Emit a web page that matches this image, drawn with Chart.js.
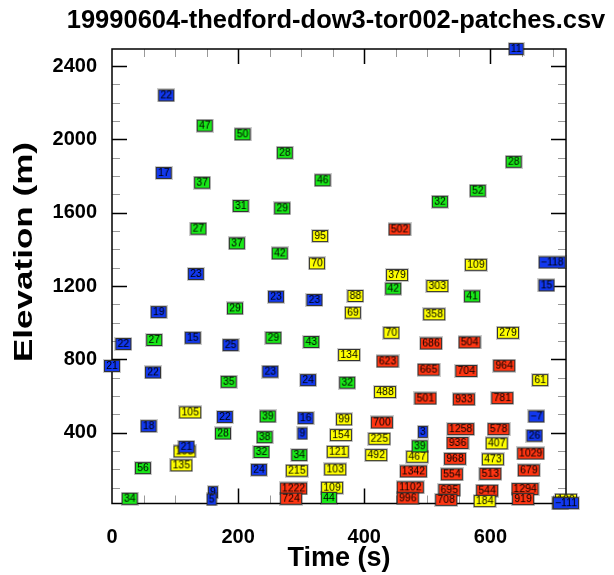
<!DOCTYPE html>
<html>
<head>
<meta charset="utf-8">
<script src="https://cdn.jsdelivr.net/npm/chart.js@4.4.0/dist/chart.umd.min.js"></script>
<style>
  html, body { margin: 0; padding: 0; background: #fff; }
  #wrap { width: 614px; height: 575px; }
</style>
</head>
<body>
<div id="wrap"><canvas id="chart" width="614" height="575"></canvas></div>
<script>
// patch boxes, one group of arrays per colour (time s, elevation m, label)
const blueTimes  = [86, 82, 641, 133, 260, 321, 74, 18, 128, 188, 0, 65, 251, 698, 689, 311, 179, 307, 58, 302, 118, 233, 160, 158, 493, 673, 670, 720];
const blueElevs  = [2240, 1817, 2493, 1266, 1142, 1124, 1058, 884, 918, 878, 764, 729, 733, 1329, 1204, 687, 486, 480, 436, 396, 323, 198, 76, 36, 405, 489, 384, 16];
const blueLabels = ['22', '17', '11', '23', '23', '23', '19', '22', '15', '25', '21', '22', '23', '\u2212118', '15', '24', '22', '16', '18', '9', '21', '24', '9', '5', '3', '\u22127', '26', '\u2212111'];

const greenTimes  = [147, 207, 274, 143, 334, 204, 270, 137, 637, 580, 520, 198, 266, 195, 67, 256, 316, 446, 571, 185, 373, 247, 176, 242, 237, 297, 49, 28, 344, 488];
const greenElevs  = [2075, 2028, 1927, 1764, 1777, 1637, 1624, 1513, 1878, 1720, 1660, 1433, 1378, 1078, 906, 918, 895, 1186, 1144, 678, 673, 489, 396, 376, 295, 278, 207, 40, 44, 326];
const greenLabels = ['47', '50', '28', '37', '46', '31', '29', '27', '28', '52', '32', '37', '42', '29', '27', '29', '43', '42', '41', '35', '32', '39', '28', '38', '32', '34', '56', '34', '44', '39'];

const yellowTimes  = [330, 325, 386, 382, 376, 577, 452, 516, 511, 443, 628, 679, 433, 124, 368, 363, 115, 358, 110, 293, 354, 349, 424, 419, 484, 610, 604, 591, 720, 711];
const yellowElevs  = [1473, 1324, 1146, 1055, 824, 1316, 1260, 1200, 1046, 945, 945, 687, 622, 511, 473, 387, 298, 296, 222, 193, 200, 100, 367, 278, 269, 342, 255, 27, 35, 16];
const yellowLabels = ['95', '70', '88', '69', '134', '109', '379', '303', '358', '70', '279', '61', '488', '105', '99', '154', '198', '121', '135', '215', '103', '109', '225', '492', '467', '407', '473', '184', '100', '73'];

const redTimes  = [456, 506, 567, 437, 502, 562, 622, 497, 558, 619, 428, 553, 613, 548, 544, 664, 478, 539, 600, 661, 288, 284, 473, 535, 595, 655, 469, 530, 652];
const redElevs  = [1509, 887, 893, 789, 744, 737, 766, 587, 582, 589, 456, 420, 420, 344, 258, 287, 189, 173, 176, 195, 96, 40, 102, 87, 84, 93, 42, 34, 38];
const redLabels = ['502', '686', '504', '623', '665', '704', '964', '501', '933', '781', '700', '1258', '578', '936', '968', '1029', '1342', '554', '513', '679', '1222', '724', '1102', '695', '544', '1294', '996', '708', '919'];

const xTickLabels = [0, 200, 400, 600];
const yTickLabels = [400, 800, 1200, 1600, 2000, 2400];

const FONT = '"Liberation Sans", Arial, Helvetica, sans-serif';

// small filled box with the patch number, used as the point image
function makeBox(text, fill) {
    const c = document.createElement('canvas');
    const g = c.getContext('2d');
    g.font = '10.5px ' + FONT;
    const w = Math.round(g.measureText(text).width) + 4;
    const h = 12;
    c.width = w + 2;
    c.height = h + 2;
    const d = c.getContext('2d');
    d.fillStyle = fill;
    d.fillRect(1, 1, w, h);
    d.strokeStyle = 'rgba(0,0,0,0.2)';
    d.lineWidth = 1;
    d.strokeRect(0.5, 0.5, w + 1, h + 1);
    d.strokeStyle = '#333';
    d.strokeRect(1.5, 1.5, w - 1, h - 1);
    d.font = '10.5px ' + FONT;
    d.fillStyle = '#000';
    d.textAlign = 'center';
    d.textBaseline = 'middle';
    d.fillText(text, 1 + w / 2, 1 + h / 2 + 0.5);
    return c;
}

function boxSet(times, elevs, labels, fill) {
    return {
        data: times.map((t, i) => ({ x: t, y: elevs[i] })),
        pointStyle: labels.map(l => makeBox(l, fill)),
        pointRadius: 4,
        clip: false
    };
}

// frame and inward tick marks on all four sides
const frameTicks = {
    id: 'frameTicks',
    beforeDatasetsDraw(chart) {
        const { ctx, chartArea: a, scales: { x, y } } = chart;
        ctx.save();
        x.ticks.forEach(t => {
            if (t.value <= x.min || t.value >= x.max) return;
            const major = xTickLabels.includes(t.value);
            const px = Math.round(x.getPixelForValue(t.value)) + 0.5;
            const len = major ? 15 : 8;
            ctx.strokeStyle = major ? '#000' : '#999';
            ctx.lineWidth = major ? 1.5 : 1;
            ctx.beginPath();
            ctx.moveTo(px, a.bottom); ctx.lineTo(px, a.bottom - len);
            ctx.moveTo(px, a.top); ctx.lineTo(px, a.top + len);
            ctx.stroke();
        });
        y.ticks.forEach(t => {
            if (t.value <= y.min || t.value >= y.max) return;
            const major = yTickLabels.includes(t.value);
            const py = Math.round(y.getPixelForValue(t.value)) + 0.5;
            const len = major ? 15 : 8;
            ctx.strokeStyle = major ? '#000' : '#999';
            ctx.lineWidth = major ? 1.5 : 1;
            ctx.beginPath();
            ctx.moveTo(a.left, py); ctx.lineTo(a.left + len, py);
            ctx.moveTo(a.right, py); ctx.lineTo(a.right - len, py);
            ctx.stroke();
        });
        ctx.strokeStyle = '#000';
        ctx.lineWidth = 1.5;
        ctx.strokeRect(a.left, a.top, a.right - a.left, a.bottom - a.top);
        ctx.restore();
    },
    afterDraw(chart) {
        const { ctx } = chart;
        ctx.save();
        ctx.fillStyle = '#000';
        // title
        ctx.font = 'bold 25.5px ' + FONT;
        ctx.textAlign = 'center';
        ctx.textBaseline = 'alphabetic';
        ctx.fillText('19990604-thedford-dow3-tor002-patches.csv', 336, 28);
        // x title
        ctx.font = 'bold 27px ' + FONT;
        ctx.fillText('Time (s)', 339, 566);
        // y title, drawn wide like the original
        ctx.font = 'bold 26px ' + FONT;
        const yt = 'Elevation (m)';
        const sx = 220 / ctx.measureText(yt).width;
        ctx.translate(32, 252);
        ctx.rotate(-Math.PI / 2);
        ctx.scale(sx, 1);
        ctx.fillText(yt, 0, 0);
        ctx.restore();
    }
};

new Chart(document.getElementById('chart').getContext('2d'), {
    type: 'scatter',
    data: {
        datasets: [
            boxSet(blueTimes, blueElevs, blueLabels, '#1238ee'),
            boxSet(greenTimes, greenElevs, greenLabels, '#18e818'),
            boxSet(yellowTimes, yellowElevs, yellowLabels, '#ffff00'),
            boxSet(redTimes, redElevs, redLabels, '#ff3512')
        ]
    },
    options: {
        responsive: false,
        animation: false,
        events: [],
        layout: { padding: { top: 49, right: 48, left: 0, bottom: 0 } },
        plugins: {
            legend: { display: false },
            tooltip: { enabled: false },
            title: { display: false }
        },
        scales: {
            x: {
                type: 'linear',
                min: 0,
                max: 720,
                grid: { display: false },
                border: { display: false },
                afterBuildTicks(scale) {
                    const t = [];
                    for (let v = 0; v <= 700; v += 50) t.push({ value: v });
                    scale.ticks = t;
                },
                afterFit(scale) { scale.height = 71.5; },
                ticks: {
                    autoSkip: false,
                    maxRotation: 0,
                    padding: 14,
                    color: '#000',
                    font: { family: FONT, size: 20, weight: 'bold' },
                    callback: v => xTickLabels.includes(v) ? String(v) : ''
                }
            },
            y: {
                type: 'linear',
                min: 14,
                max: 2493,
                grid: { display: false },
                border: { display: false },
                afterBuildTicks(scale) {
                    const t = [];
                    for (let v = 100; v <= 2400; v += 100) t.push({ value: v });
                    scale.ticks = t;
                },
                afterFit(scale) { scale.width = 112; },
                ticks: {
                    autoSkip: false,
                    padding: 7,
                    color: '#000',
                    font: { family: FONT, size: 20, weight: 'bold' },
                    callback: v => yTickLabels.includes(v) ? String(v) : ''
                }
            }
        }
    },
    plugins: [frameTicks]
});
</script>
</body>
</html>
